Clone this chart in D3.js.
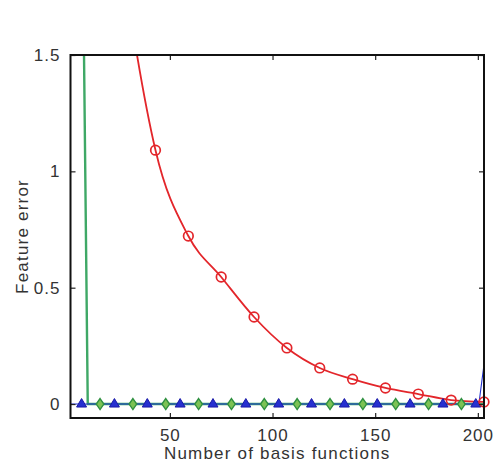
<!DOCTYPE html>
<html><head><meta charset="utf-8">
<script src="https://cdn.jsdelivr.net/npm/d3@7"></script>
<style>
html,body{margin:0;padding:0;background:#fff;}
svg text{font-family:"Liberation Sans",Arial,sans-serif;fill:#333;}
</style></head>
<body>
<script>
// ---- data ----
const xTicks = [50, 100, 150, 200];
const yTicks = [0, 0.5, 1, 1.5];
const xLabel = "Number of basis functions";
const yLabel = "Feature error";

// red series (circles)
const redX = [30, 34, 43, 59, 75, 91, 107, 123, 139, 155, 171, 187, 203];
const redY = [1.72, 1.50, 1.091, 0.722, 0.546, 0.374, 0.241, 0.155, 0.107, 0.069, 0.043, 0.017, 0.009];
const redMarkerX = [43, 59, 75, 91, 107, 123, 139, 155, 171, 187, 203];

// green series (diamonds)
const greenX = [8, 10, 16, 32, 48, 64, 80, 96, 112, 128, 144, 160, 176, 192, 203];
const greenY = [1.65, 0, 0, 0, 0, 0, 0, 0, 0, 0, 0, 0, 0, 0, 0];
const greenMarkerX = [16, 32, 48, 64, 80, 96, 112, 128, 144, 160, 176, 192];

// blue series (triangles)
const blueX = [1.6, 7, 23, 39, 55, 71, 87, 103, 119, 135, 151, 167, 183, 199, 200.5, 203];
const blueY = [0, 0, 0, 0, 0, 0, 0, 0, 0, 0, 0, 0, 0, 0, 0, 0.17];
const blueMarkerX = [7, 23, 39, 55, 71, 87, 103, 119, 135, 151, 167, 183, 199];

const xDomain = [1.6, 203];
const yDomain = [-0.06, 1.5];

// ---- layout ----
const W = 496, H = 464;
const L = 70.5, R = 484, T = 55, B = 418;

const svg = d3.select("body").append("svg").attr("width", W).attr("height", H);
const x = d3.scaleLinear().domain(xDomain).range([L, R]);
const y = d3.scaleLinear().domain(yDomain).range([B, T]);

svg.append("defs").append("clipPath").attr("id", "clip")
  .append("rect").attr("x", L).attr("y", T).attr("width", R - L).attr("height", B - T);

const plot = svg.append("g").attr("clip-path", "url(#clip)");
const line = d3.line().x(d => x(d[0])).y(d => y(d[1]));
const curve = d3.line().x(d => x(d[0])).y(d => y(d[1])).curve(d3.curveMonotoneX);

function pts(xs, ys) { return xs.map((v, i) => [v, ys[i]]); }
function markerPts(mx, xs, ys) { return mx.map(v => [v, ys[xs.indexOf(v)]]); }

// green
plot.append("path").attr("d", line(pts(greenX, greenY)))
  .attr("fill", "none").attr("stroke", "#3fa866").attr("stroke-width", 2.4);
// blue
plot.append("path").attr("d", line(pts(blueX, blueY)))
  .attr("fill", "none").attr("stroke", "#1f2fcf").attr("stroke-width", 1.1);
// red
plot.append("path").attr("d", curve(pts(redX, redY)))
  .attr("fill", "none").attr("stroke", "#e3262b").attr("stroke-width", 1.8);

const gm = svg.append("g");
// diamonds
gm.selectAll(".dia").data(markerPts(greenMarkerX, greenX, greenY)).join("path")
  .attr("transform", d => `translate(${x(d[0])},${y(d[1])})`)
  .attr("d", "M0,-5.5L3.8,0L0,5.5L-3.8,0Z")
  .attr("fill", "#7cc254").attr("stroke", "#2f9040").attr("stroke-width", 1.4);
// triangles
gm.selectAll(".tri").data(markerPts(blueMarkerX, blueX, blueY)).join("path")
  .attr("transform", d => `translate(${x(d[0])},${y(d[1])})`)
  .attr("d", "M0,-5.5L5,3L-5,3Z")
  .attr("fill", "#2630d0").attr("stroke", "#1a1aa8").attr("stroke-width", 1);
// circles
gm.selectAll(".cir").data(markerPts(redMarkerX, redX, redY)).join("circle")
  .attr("cx", d => x(d[0])).attr("cy", d => y(d[1])).attr("r", 4.8)
  .attr("fill", "none").attr("stroke", "#e3262b").attr("stroke-width", 1.7);

// ---- axes ----
const tl = 5;
const axB = svg.append("g").attr("transform", `translate(0,${B})`)
  .call(d3.axisBottom(x).tickValues(xTicks).tickSize(-tl).tickPadding(11).tickFormat(d3.format("d")));
const axT = svg.append("g").attr("transform", `translate(0,${T})`)
  .call(d3.axisTop(x).tickValues(xTicks).tickSize(-tl).tickFormat(""));
const axL = svg.append("g").attr("transform", `translate(${L},0)`)
  .call(d3.axisLeft(y).tickValues(yTicks).tickSize(-tl).tickPadding(10).tickFormat(d => d3.format("")(d)));
const axR = svg.append("g").attr("transform", `translate(${R},0)`)
  .call(d3.axisRight(y).tickValues(yTicks).tickSize(-tl).tickFormat(""));

[axB, axT, axL, axR].forEach(a => {
  a.select(".domain").remove();
  a.selectAll(".tick line").attr("stroke", "#222").attr("stroke-width", 1.2);
  a.selectAll("text").attr("font-size", 17).style("letter-spacing", "1px").attr("fill", "#333");
});

svg.append("rect").attr("x", L).attr("y", T).attr("width", R - L).attr("height", B - T)
  .attr("fill", "none").attr("stroke", "#111").attr("stroke-width", 2);

svg.append("text").attr("x", (L + R) / 2).attr("y", 459).attr("text-anchor", "middle")
  .attr("font-size", 17).style("letter-spacing", "1.2px").text(xLabel);
svg.append("text").attr("transform", `translate(28,${(T + B) / 2}) rotate(-90)`)
  .attr("text-anchor", "middle").attr("font-size", 17).style("letter-spacing", "1.2px").text(yLabel);
</script>
</body></html>
